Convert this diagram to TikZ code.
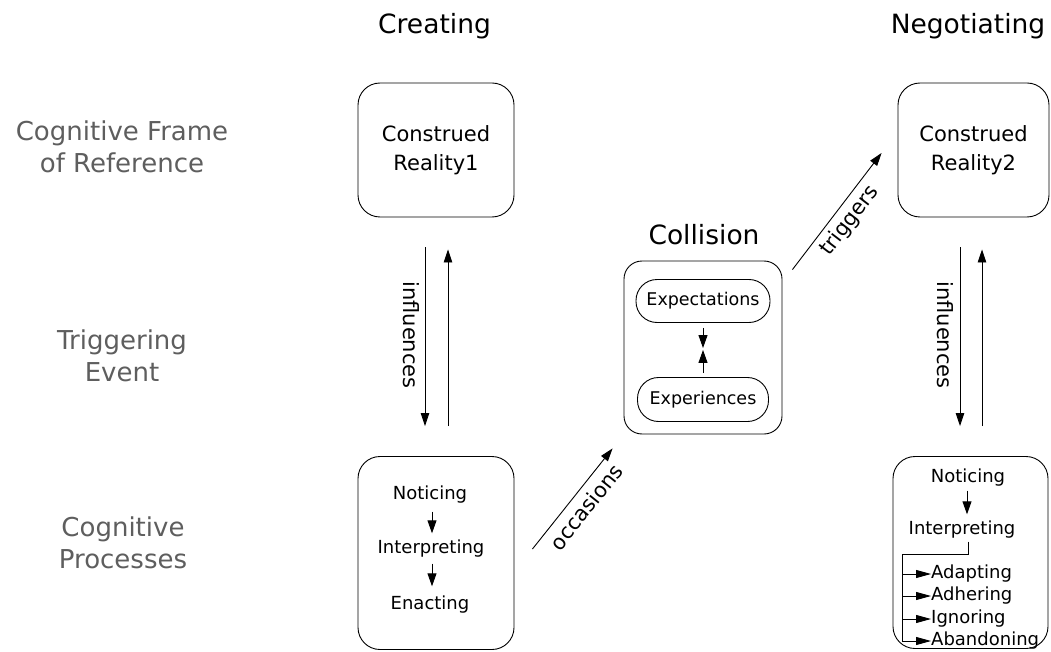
\documentclass[tikz,border=0pt]{standalone}
\usepackage{fontspec}
\setmainfont{DejaVu Sans}
\usetikzlibrary{arrows.meta,calc}
\definecolor{lblgray}{HTML}{5E5E5E}
\begin{document}
\begin{tikzpicture}[x=1pt,y=-1pt,
  every node/.style={inner sep=0pt},
  box/.style={draw, line width=0.9pt, rounded corners=22pt},
  pill/.style={draw, line width=0.9pt, rounded corners=21pt, font=\fontsize{17.5}{21}\selectfont},
  rowlbl/.style={text=lblgray, font=\fontsize{26}{32}\selectfont, align=center},
  head/.style={font=\fontsize{26.5}{32}\selectfont},
  boxtxt/.style={font=\fontsize{21}{29}\selectfont, align=center},
  proc/.style={font=\fontsize{18}{22}\selectfont, text height=13pt, text depth=4pt},
  arr/.style={line width=0.9pt, -{Triangle[length=13pt,width=8.5pt]}},
  sarr/.style={line width=0.9pt, -{Triangle[length=13pt,width=9pt]}},
  barr/.style={line width=0.9pt, -{Triangle[length=15pt,width=8pt]}},
  conlbl/.style={font=\fontsize{21}{25}\selectfont}
]
\useasboundingbox (0,0) rectangle (1051,652);

% column heads
\node[head, anchor=base] (h1) at (434.5,34) {Creating};
\node[head, anchor=base] (h2) at (968,34) {Negotiating};
\node[head, anchor=base] (h3) at (704,244) {Collision};

% row labels
\node[rowlbl] (rl1) at (122,147) {Cognitive Frame\\of Reference};
\node[rowlbl] (rl2) at (122,356) {Triggering\\Event};
\node[rowlbl] (rl3) at (123,543) {Cognitive\\Processes};

% construed reality boxes
\node[box, boxtxt, minimum width=156pt, minimum height=134pt] (cr1) at (436,150) {Construed\\Reality1};
\node[box, boxtxt, minimum width=151pt, minimum height=134pt] (cr2) at (973.5,150) {Construed\\Reality2};

% process boxes
\node[box, minimum width=156pt, minimum height=193pt] (p1) at (436,553) {};
\node[box, minimum width=155pt, minimum height=192pt] (p2) at (970.5,552.5) {};

% collision box
\node[box, rounded corners=18pt, minimum width=158pt, minimum height=173pt] (coll) at (703,347.5) {};
\node[pill, minimum width=134pt, minimum height=43pt] (exp) at (703,301) {Expectations};
\node[pill, minimum width=131pt, minimum height=44pt] (exr) at (703,399.5) {Experiences};
\draw[sarr, shorten <=5pt, shorten >=29pt] (exp.south) -- (exr.north);
\draw[sarr, shorten <=4pt, shorten >=27pt] (exr.north) -- (exp.south);

% influences arrows (left)
\draw[arr] ([xshift=-11pt,yshift=-30pt]cr1.south) -- ([xshift=-11pt,yshift=30pt]p1.north);
\draw[arr] ([xshift=12pt,yshift=30pt]p1.north) -- ([xshift=12pt,yshift=-32pt]cr1.south);
\node[conlbl, rotate=-90] (inf1) at (411,335) {influences};

% influences arrows (right)
\draw[arr] ([xshift=-13.5pt,yshift=-30pt]cr2.south) -- ([xshift=-13.5pt,yshift=30pt]cr2.south |- p2.north);
\draw[arr] ([xshift=8.5pt,yshift=30pt]cr2.south |- p2.north) -- ([xshift=8.5pt,yshift=-32pt]cr2.south);
\node[conlbl, rotate=-90] (inf2) at (945,335) {influences};

% occasions / triggers
\draw[arr] ($(p1.east)+(18,-4)$) -- ($(coll.south west)+(-11,14)$);
\node[conlbl, rotate=51.5] (occ) at (586,507) {occasions};
\draw[arr] ($(coll.north east)+(10,9)$) -- ($(cr2.west)+(-16,3)$);
\node[conlbl, rotate=52.5] (trg) at (850,221) {triggers};

% left process texts
\node[proc] (not1) at (430,495) {Noticing};
\node[proc] (int1) at (431,549) {Interpreting};
\node[proc] (ena1) at (430,605) {Enacting};
\draw[sarr, shorten <=8pt, shorten >=7pt] (not1.south -| 432,0) -- (int1.north -| 432,0);
\draw[sarr, shorten <=6pt, shorten >=10pt] (int1.south -| 432,0) -- (ena1.north -| 432,0);

% right process texts
\node[proc] (not2) at (968,478) {Noticing};
\node[proc] (int2) at (962,530) {Interpreting};
\draw[sarr, shorten <=4pt, shorten >=7pt] ([xshift=-1pt]not2.south) -- ([xshift=-1pt]not2.south |- int2.north);

\node[proc, anchor=west] (ada) at (931,574) {Adapting};
\node[proc, anchor=west] (adh) at (931,596) {Adhering};
\node[proc, anchor=west] (ign) at (931,619) {Ignoring};
\node[proc, anchor=west] (aba) at (931,641) {Abandoning};
\coordinate (brk) at (902,554);
\draw[line width=0.9pt] ([xshift=6pt,yshift=-3pt]int2.south) |- (brk) -- (brk |- aba);
\draw[barr] (brk |- ada) -- (ada.west);
\draw[barr] (brk |- adh) -- (adh.west);
\draw[barr] (brk |- ign) -- (ign.west);
\draw[barr] (brk |- aba) -- (aba.west);
\end{tikzpicture}
\end{document}
